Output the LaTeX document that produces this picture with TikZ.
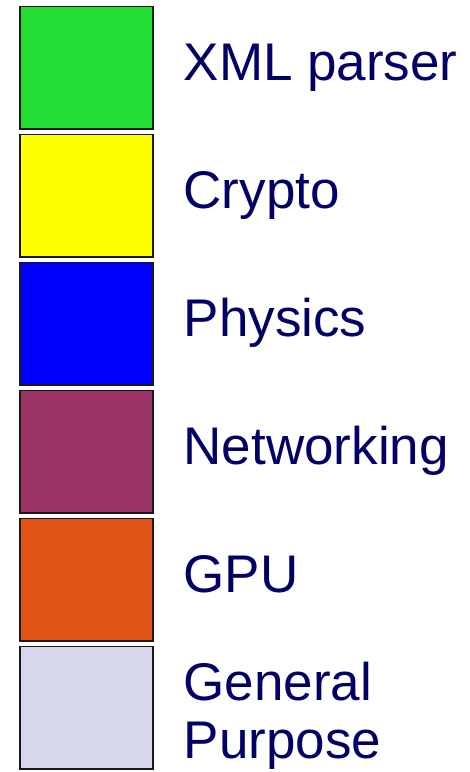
\documentclass[tikz,border=0pt]{standalone}
\usepackage{fontspec}
\setmainfont{Liberation Sans}
\definecolor{xmlgreen}{HTML}{22DD33}
\definecolor{cryptoyellow}{HTML}{FFFF00}
\definecolor{physblue}{HTML}{0000FF}
\definecolor{netpurple}{HTML}{993366}
\definecolor{gpuorange}{HTML}{E05515}
\definecolor{genlavender}{HTML}{D8D8EC}
\definecolor{labelnavy}{HTML}{000066}
\begin{document}
\begin{tikzpicture}[x=1pt,y=-1pt,
  swatch/.style={draw=black!90, line width=1.5pt, minimum width=133pt,
    minimum height=122.5pt, inner sep=0pt},
  legendtext/.style={anchor=base west, inner sep=0pt, text=labelnavy,
    font=\fontsize{53}{57.6}\selectfont, align=left}]
  \useasboundingbox (0,0) rectangle (470,772);
  % colour swatches, one per row
  \node[swatch, fill=xmlgreen]     (s1) at (86.3, 67.8) {};
  \node[swatch, fill=cryptoyellow] (s2) at (86.3,195.8) {};
  \node[swatch, fill=physblue]     (s3) at (86.3,323.8) {};
  \node[swatch, fill=netpurple]    (s4) at (86.3,451.8) {};
  \node[swatch, fill=gpuorange]    (s5) at (86.3,579.8) {};
  \node[swatch, fill=genlavender]  (s6) at (86.3,707.8) {};
  % legend labels (base anchor of the two-line label is its last line)
  \node[legendtext] (l1) at (183.5, 80.0) {XML parser};
  \node[legendtext] (l2) at (183.5,208.0) {Crypto};
  \node[legendtext] (l3) at (183.5,336.0) {Physics};
  \node[legendtext] (l4) at (183.5,464.5) {Networking};
  \node[legendtext] (l5) at (183.5,592.0) {GPU};
  \node[legendtext] (l6) at (183.5,758.3) {General\\Purpose};
\end{tikzpicture}
\end{document}
